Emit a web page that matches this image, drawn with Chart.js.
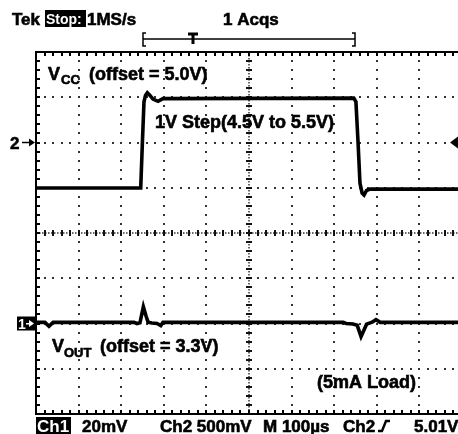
<!DOCTYPE html>
<html>
<head>
<title>Tek scope capture - 1V step</title>
<script src="https://cdn.jsdelivr.net/npm/chart.js"></script>
<style>
  body { margin: 0; background: #fff; }
  canvas { display: block; }
</style>
</head>
<body>
<canvas id="chart" width="458" height="434"></canvas>
<script>
// time base 100 us/div, screen starts at 0 us
// Ch2: input step, volts (500 mV/div, offset 5.0 V)
const ch2Time  = [0, 245.8, 250, 253.5, 257, 261.3, 267.6, 274.6, 286.4, 298.1, 746, 751, 756, 760.5, 765.5, 770, 776, 784, 990.6];
const ch2Volts = [4.497, 4.497, 5.03, 5.45, 5.52, 5.55, 5.52, 5.48, 5.455, 5.485, 5.49, 5.45, 5.0, 4.55, 4.44, 4.42, 4.47, 4.485, 4.485];

// Ch1: output deviation from 3.3 V offset, mV (20 mV/div)
const ch1Time = [0, 21, 30.5, 40, 230, 237, 244, 252, 258, 263, 272, 284, 293, 298, 721, 728, 744, 754, 763, 776, 789, 798, 808, 990.6];
const ch1mV   = [0.5, 0.5, -1.2, 0.5, 0.5, 0.0, 0.3, 7.4, 3.5, 0.6, 0.2, 0.0, -0.9, 0.5, 0.5, 0.0, -0.2, -0.8, -5.8, -0.3, 0.6, 1.7, 0.5, 0.5];

const headerText = ['Tek', 'Stop:', '1MS/s', '1 Acqs'];
const footerText = ['Ch1', '20mV', 'Ch2 500mV', 'M 100\u00b5s', 'Ch2', '5.01V'];

const FONT = '"Liberation Sans", Arial, sans-serif';

function bold(size) { return 'bold ' + size + 'px ' + FONT; }

// heavier text, like the scope's screen font
function heavy(ctx, s, x, y) {
  ctx.fillText(s, x, y);
  ctx.lineWidth = 0.6;
  ctx.strokeStyle = ctx.fillStyle;
  ctx.strokeText(s, x, y);
}

// oscilloscope graticule
const scopeGrid = {
  id: 'scopeGrid',
  beforeDatasetsDraw(chart) {
    const ctx = chart.ctx, a = chart.chartArea;
    const xs = chart.scales.x, ys = chart.scales.y;
    const dx = xs.getPixelForValue(100) - xs.getPixelForValue(0);
    const dy = ys.getPixelForValue(2) - ys.getPixelForValue(2.5);
    ctx.save();
    ctx.fillStyle = '#333';
    // dotted division lines
    for (let i = 1; i < 10; i++) {
      if (i === 5) continue;
      const x = Math.round(xs.getPixelForValue(i * 100));
      for (let k = 1; k < 40; k++) {
        const y = a.top + k * dy / 5;
        if (y > a.bottom - 2) break;
        ctx.fillRect(x - 1, Math.round(y) - 1, 2, 2);
      }
    }
    for (let j = 1; j < 8; j++) {
      if (j === 4) continue;
      const y = Math.round(ys.getPixelForValue(2 + j * 0.5));
      for (let k = 1; k < 60; k++) {
        const x = a.left + k * dx / 5;
        if (x > a.right) break;
        ctx.fillRect(Math.round(x) - 1, y - 1, 2, 2);
      }
    }
    // center axes with minor ticks
    const cx = Math.round(xs.getPixelForValue(500));
    const cy = Math.round(ys.getPixelForValue(4));
    ctx.fillStyle = '#666';
    for (let y = a.top; y < a.bottom; y += 3) ctx.fillRect(cx - 1, y, 2, 1.5);
    for (let x = a.left; x < a.right; x += 3) ctx.fillRect(x, cy - 1, 1.5, 2);
    ctx.fillStyle = '#111';
    for (let k = 1; k < 40; k++) {
      const y = a.top + k * dy / 5;
      if (y > a.bottom - 2) break;
      ctx.fillRect(cx - 3, Math.round(y) - 1, 6, 2);
    }
    for (let k = 1; k < 60; k++) {
      const x = a.left + k * dx / 5;
      if (x > a.right) break;
      ctx.fillRect(Math.round(x) - 1, cy - 3, 2, 6);
    }
    // border with inward ticks
    ctx.fillStyle = '#000';
    ctx.fillRect(a.left - 1, a.top - 1, a.right - a.left + 1, 2);
    ctx.fillRect(a.left - 1, a.bottom - 1, a.right - a.left + 1, 2);
    ctx.fillRect(a.left - 1, a.top - 1, 2, a.bottom - a.top + 2);
    for (let k = 1; k < 60; k++) {
      const x = a.left + k * dx / 5;
      if (x > a.right) break;
      ctx.fillRect(Math.round(x) - 1, a.top, 2, 4);
      ctx.fillRect(Math.round(x) - 1, a.bottom - 4, 2, 4);
    }
    for (let k = 1; k < 40; k++) {
      const y = a.top + k * dy / 5;
      if (y > a.bottom - 2) break;
      ctx.fillRect(a.left, Math.round(y) - 1, 4, 2);
    }
    ctx.restore();
  },
  afterDraw(chart) {
    const ctx = chart.ctx;
    const ys = chart.scales.y, y1 = chart.scales.y1;
    const ch2Mark = ys.getPixelForValue(5.0);
    const ch1Mark = y1.getPixelForValue(0);
    ctx.save();
    ctx.fillStyle = '#000';
    ctx.strokeStyle = '#000';
    ctx.textBaseline = 'alphabetic';

    // header
    ctx.font = bold(17);
    heavy(ctx, headerText[0], 12, 25);
    ctx.fillRect(45, 10, 41, 17);
    heavy(ctx, headerText[2], 87, 25);
    heavy(ctx, headerText[3], 223, 25);
    ctx.fillStyle = '#fff';
    ctx.font = bold(14);
    ctx.fillText(headerText[1], 46, 24);
    ctx.fillStyle = '#000';
    ctx.strokeStyle = '#000';

    // record bar with trigger position
    ctx.lineWidth = 1.5;
    ctx.beginPath();
    ctx.moveTo(143, 39); ctx.lineTo(355, 39);
    ctx.moveTo(146, 33); ctx.lineTo(143, 33); ctx.lineTo(143, 46); ctx.lineTo(146, 46);
    ctx.moveTo(352, 33); ctx.lineTo(355, 33); ctx.lineTo(355, 46); ctx.lineTo(352, 46);
    ctx.stroke();
    ctx.lineWidth = 3;
    ctx.beginPath();
    ctx.moveTo(188, 34); ctx.lineTo(198, 34);
    ctx.moveTo(193, 34); ctx.lineTo(193, 44);
    ctx.stroke();

    // footer
    ctx.fillRect(36, 417, 35, 17);
    ctx.font = bold(17);
    heavy(ctx, footerText[1], 82, 432);
    heavy(ctx, footerText[2], 160, 432);
    heavy(ctx, footerText[3], 263, 432);
    heavy(ctx, footerText[4], 343, 432);
    heavy(ctx, footerText[5], 414, 432);
    ctx.lineWidth = 2.4;
    ctx.beginPath();
    ctx.moveTo(378, 431); ctx.lineTo(382, 431);
    ctx.lineTo(386, 421); ctx.lineTo(390, 421);
    ctx.stroke();
    ctx.fillStyle = '#fff';
    ctx.fillText(footerText[0], 37, 432);
    ctx.fillStyle = '#000';
    ctx.strokeStyle = '#000';

    // channel markers
    ctx.font = bold(17);
    heavy(ctx, '2', 10, ch2Mark + 6);
    ctx.lineWidth = 1.5;
    ctx.beginPath(); ctx.moveTo(22, ch2Mark); ctx.lineTo(30, ch2Mark); ctx.stroke();
    ctx.beginPath(); ctx.moveTo(35, ch2Mark); ctx.lineTo(29, ch2Mark - 4); ctx.lineTo(29, ch2Mark + 4); ctx.closePath(); ctx.fill();
    ctx.beginPath(); ctx.moveTo(450, ch2Mark); ctx.lineTo(458, ch2Mark - 6); ctx.lineTo(458, ch2Mark + 6); ctx.closePath(); ctx.fill();

    ctx.fillRect(17, ch1Mark - 7, 18, 14);
    ctx.fillStyle = '#fff';
    ctx.font = bold(14);
    ctx.fillText('1', 18, ch1Mark + 5);
    ctx.beginPath(); ctx.moveTo(34, ch1Mark); ctx.lineTo(29, ch1Mark - 3.5); ctx.lineTo(29, ch1Mark + 3.5); ctx.closePath(); ctx.fill();
    ctx.fillRect(26, ch1Mark - 0.5, 4, 1.5);
    ctx.fillStyle = '#000';

    // annotations
    ctx.font = bold(18);
    heavy(ctx, 'V', 48, 80);
    heavy(ctx, '(offset = 5.0V)', 89, 80);
    heavy(ctx, '1V Step(4.5V to 5.5V)', 155, 128);
    heavy(ctx, 'V', 52, 352);
    heavy(ctx, '(offset = 3.3V)', 100, 352);
    heavy(ctx, '(5mA Load)', 317, 388);
    ctx.font = bold(13);
    heavy(ctx, 'CC', 61, 84);
    heavy(ctx, 'OUT', 64, 357);
    ctx.restore();
  }
};

const ch2Data = ch2Time.map((t, i) => ({ x: t, y: ch2Volts[i] }));
const ch1Data = ch1Time.map((t, i) => ({ x: t, y: ch1mV[i] }));

const ctx = document.getElementById('chart').getContext('2d');
const chart = new Chart(ctx, {
  type: 'scatter',
  data: {
    datasets: [
      { label: 'Ch2', data: ch2Data, yAxisID: 'y', showLine: true, borderColor: '#000', borderWidth: 3.6, pointRadius: 0, tension: 0 },
      { label: 'Ch1', data: ch1Data, yAxisID: 'y1', showLine: true, borderColor: '#000', borderWidth: 3.6, pointRadius: 0, tension: 0 }
    ]
  },
  options: {
    responsive: false,
    animation: false,
    devicePixelRatio: 1,
    layout: { padding: { left: 36, top: 52, right: 0, bottom: 20 } },
    plugins: { legend: { display: false }, tooltip: { enabled: false } },
    scales: {
      x: { type: 'linear', min: 0, max: 990.6, display: false },
      y: { type: 'linear', min: 2, max: 6, display: false },
      y1: { type: 'linear', min: -40, max: 120, display: false }
    }
  },
  plugins: [scopeGrid]
});
</script>
</body>
</html>
